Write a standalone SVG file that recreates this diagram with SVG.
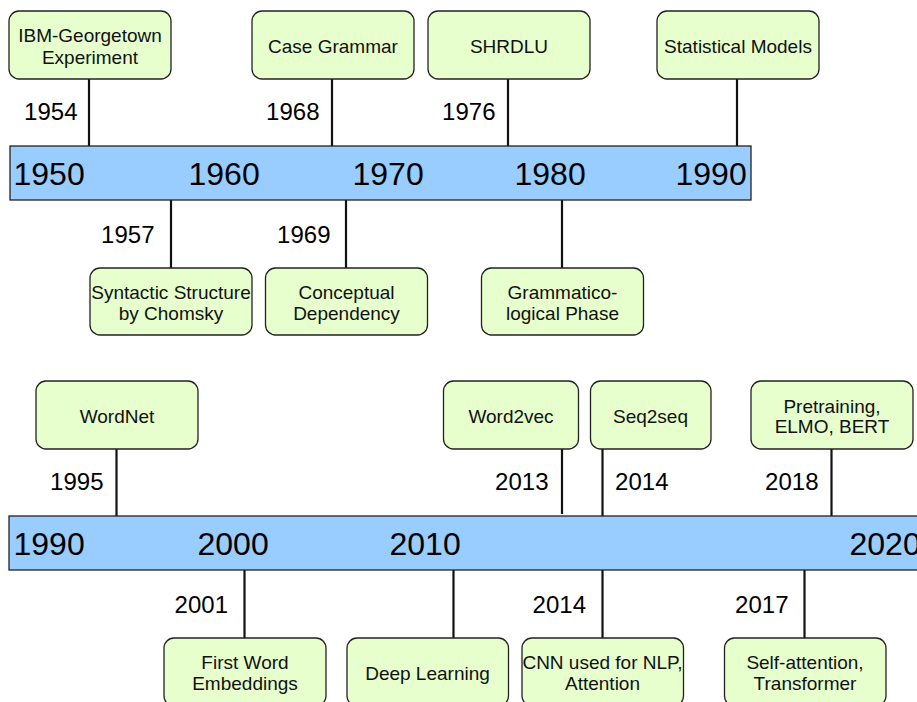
<svg xmlns="http://www.w3.org/2000/svg" width="917" height="702" viewBox="0 0 917 702">
  <style>
    .bar { fill: #99CCFF; stroke: #222; stroke-width: 1.3; }
    .box { fill: #E6FFCC; stroke: #222; stroke-width: 1.3; }
    .link { stroke: #111; stroke-width: 2.2; fill: none; }
    .tick { font-family: "Liberation Sans", Arial, sans-serif; font-size: 32px; fill: #000; }
    .yr { font-family: "Liberation Sans", Arial, sans-serif; font-size: 24px; fill: #000; text-anchor: end; }
    .lbl { font-family: "Liberation Sans", Arial, sans-serif; font-size: 19px; fill: #111; text-anchor: middle; }
  </style>
  <rect width="917" height="702" fill="#FFFFFF"/>

  <!-- connectors -->
  <g id="connectors">
    <line class="link" x1="89" y1="79" x2="89" y2="146"/>
    <line class="link" x1="332" y1="79" x2="332" y2="146"/>
    <line class="link" x1="508" y1="79" x2="508" y2="146"/>
    <line class="link" x1="737" y1="79" x2="737" y2="146"/>
    <line class="link" x1="171" y1="200" x2="171" y2="268"/>
    <line class="link" x1="346" y1="200" x2="346" y2="268"/>
    <line class="link" x1="562" y1="200" x2="562" y2="268"/>
    <line class="link" x1="116.5" y1="449" x2="116.5" y2="516"/>
    <line class="link" x1="562" y1="449" x2="562" y2="514"/>
    <line class="link" x1="602.5" y1="449" x2="602.5" y2="516"/>
    <line class="link" x1="831.5" y1="449" x2="831.5" y2="516"/>
    <line class="link" x1="244.5" y1="570" x2="244.5" y2="638"/>
    <line class="link" x1="453.5" y1="570" x2="453.5" y2="638"/>
    <line class="link" x1="602.5" y1="570" x2="602.5" y2="638"/>
    <line class="link" x1="804.5" y1="570" x2="804.5" y2="638"/>
  </g>

  <!-- timeline bars -->
  <g id="bar-1950-1990">
    <rect class="bar" x="10" y="146" width="741" height="54"/>
    <text class="tick" x="13.5" y="185">1950</text>
    <text class="tick" x="188.5" y="185">1960</text>
    <text class="tick" x="352.5" y="185">1970</text>
    <text class="tick" x="514.5" y="185">1980</text>
    <text class="tick" x="675.5" y="185">1990</text>
  </g>
  <g id="bar-1990-2020">
    <rect class="bar" x="9" y="516" width="930" height="54"/>
    <text class="tick" x="13.5" y="555">1990</text>
    <text class="tick" x="197.5" y="555">2000</text>
    <text class="tick" x="389.5" y="555">2010</text>
    <text class="tick" x="849.5" y="555">2020</text>
  </g>

  <!-- year labels -->
  <g id="years">
    <text class="yr" x="77.5" y="120">1954</text>
    <text class="yr" x="319.5" y="120">1968</text>
    <text class="yr" x="495.5" y="120">1976</text>
    <text class="yr" x="154.5" y="243">1957</text>
    <text class="yr" x="330.5" y="243">1969</text>
    <text class="yr" x="103.5" y="490">1995</text>
    <text class="yr" x="548.5" y="490">2013</text>
    <text class="yr" x="668.5" y="490">2014</text>
    <text class="yr" x="818.5" y="490">2018</text>
    <text class="yr" x="228" y="613">2001</text>
    <text class="yr" x="586" y="613">2014</text>
    <text class="yr" x="788.5" y="613">2017</text>
  </g>

  <!-- events 1950-1990 -->
  <g id="ibm-georgetown">
    <rect class="box" x="9" y="11" width="162" height="68" rx="10"/>
    <text class="lbl" x="90" y="42">IBM-Georgetown</text>
    <text class="lbl" x="90" y="63.5">Experiment</text>
  </g>
  <g id="case-grammar">
    <rect class="box" x="252" y="11" width="162" height="68" rx="10"/>
    <text class="lbl" x="333" y="53">Case Grammar</text>
  </g>
  <g id="shrdlu">
    <rect class="box" x="428" y="11" width="162" height="68" rx="10"/>
    <text class="lbl" x="509" y="53">SHRDLU</text>
  </g>
  <g id="statistical-models">
    <rect class="box" x="657" y="11" width="162" height="68" rx="10"/>
    <text class="lbl" x="738" y="53">Statistical Models</text>
  </g>
  <g id="syntactic-structure">
    <rect class="box" x="90" y="268" width="162" height="67" rx="10"/>
    <text class="lbl" x="171" y="298.5">Syntactic Structure</text>
    <text class="lbl" x="171" y="320">by Chomsky</text>
  </g>
  <g id="conceptual-dependency">
    <rect class="box" x="265.5" y="268" width="162" height="67" rx="10"/>
    <text class="lbl" x="346.5" y="298.5">Conceptual</text>
    <text class="lbl" x="346.5" y="320">Dependency</text>
  </g>
  <g id="grammatico-logical">
    <rect class="box" x="481.5" y="268" width="162" height="67" rx="10"/>
    <text class="lbl" x="562.5" y="298.5">Grammatico-</text>
    <text class="lbl" x="562.5" y="320">logical Phase</text>
  </g>

  <!-- events 1990-2020 -->
  <g id="wordnet">
    <rect class="box" x="36" y="381" width="162" height="68" rx="10"/>
    <text class="lbl" x="117" y="423">WordNet</text>
  </g>
  <g id="word2vec">
    <rect class="box" x="443.5" y="381" width="135" height="68" rx="10"/>
    <text class="lbl" x="511" y="423">Word2vec</text>
  </g>
  <g id="seq2seq">
    <rect class="box" x="590.5" y="381" width="120.5" height="68" rx="10"/>
    <text class="lbl" x="650.5" y="423">Seq2seq</text>
  </g>
  <g id="pretraining">
    <rect class="box" x="751" y="381" width="162" height="68" rx="10"/>
    <text class="lbl" x="832" y="412.5">Pretraining,</text>
    <text class="lbl" x="832" y="433">ELMO, BERT</text>
  </g>
  <g id="first-word-embeddings">
    <rect class="box" x="164" y="638" width="162" height="68" rx="10"/>
    <text class="lbl" x="245" y="668.5">First Word</text>
    <text class="lbl" x="245" y="689.5">Embeddings</text>
  </g>
  <g id="deep-learning">
    <rect class="box" x="347" y="638" width="161.5" height="68" rx="10"/>
    <text class="lbl" x="427.5" y="679.5">Deep Learning</text>
  </g>
  <g id="cnn-attention">
    <rect class="box" x="522" y="638" width="161.5" height="68" rx="10"/>
    <text class="lbl" x="602.5" y="668.5">CNN used for NLP,</text>
    <text class="lbl" x="602.5" y="689.5">Attention</text>
  </g>
  <g id="self-attention">
    <rect class="box" x="724.5" y="638" width="161.5" height="68" rx="10"/>
    <text class="lbl" x="805" y="668.5">Self-attention,</text>
    <text class="lbl" x="805" y="689.5">Transformer</text>
  </g>
</svg>
